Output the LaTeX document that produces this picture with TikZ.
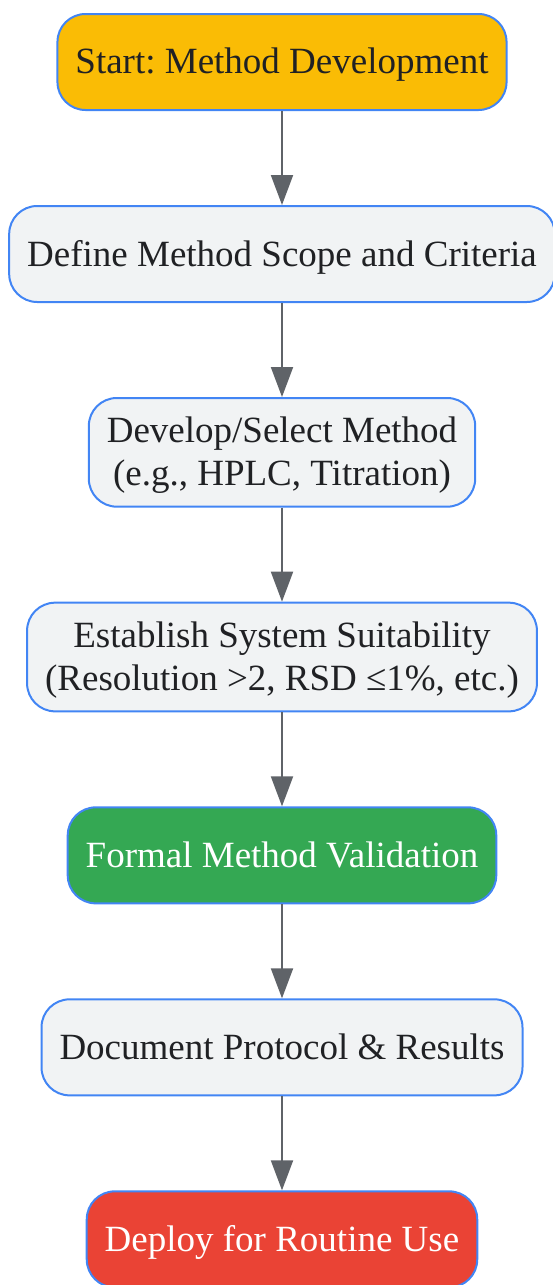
\documentclass[tikz,border=0pt]{standalone}
\usepackage{fontspec}
\setmainfont{Liberation Serif}
\usetikzlibrary{positioning,arrows.meta}
\definecolor{gblue}{HTML}{4285F4}
\definecolor{gyellow}{HTML}{FABC05}
\definecolor{ggreen}{HTML}{34A853}
\definecolor{gred}{HTML}{EA4335}
\definecolor{ggray}{HTML}{F1F3F4}
\definecolor{garrow}{HTML}{5F6368}
\definecolor{gtext}{HTML}{202124}
\frenchspacing
\begin{document}
\begin{tikzpicture}[
	node distance=94pt,
	stepbox/.style={rectangle, rounded corners=28pt, draw=gblue, line width=2pt, fill=ggray, text=gtext, font=\fontsize{37}{43}\selectfont, align=center, inner xsep=18pt, inner ysep=19pt, text depth=2pt, minimum height=96pt},
	startbox/.style={stepbox, fill=gyellow},
	validbox/.style={stepbox, fill=ggreen, text=white},
	deploybox/.style={stepbox, fill=gred, text=white},
	flowline/.style={draw=garrow, line width=2pt, -{Triangle[length=30pt,width=22pt]}},
	]
	\useasboundingbox (0,0) rectangle (553pt,-1285pt);
	
	%Nodes
	\node[startbox]		(start)		at (282pt,-62pt)	{Start: Method Development};
	\node[stepbox]		(scope)		[below=of start]	{Define Method Scope and Criteria};
	\node[stepbox]		(develop)	[below=of scope]	{Develop/Select Method\\(e.g., HPLC, Titration)};
	\node[stepbox]		(suit)		[below=of develop]	{Establish System Suitability\\(Resolution >2, RSD ≤1\%, etc.)};
	\node[validbox]		(valid)		[below=of suit]		{Formal Method Validation};
	\node[stepbox]		(doc)		[below=of valid]	{Document Protocol \& Results};
	\node[deploybox]	(deploy)	[below=of doc]		{Deploy for Routine Use};
	
	%Lines
	\draw[flowline] (start) -- (scope);
	\draw[flowline] (scope) -- (develop);
	\draw[flowline] (develop) -- (suit);
	\draw[flowline] (suit) -- (valid);
	\draw[flowline] (valid) -- (doc);
	\draw[flowline] (doc) -- (deploy);
	
\end{tikzpicture}
\end{document}
